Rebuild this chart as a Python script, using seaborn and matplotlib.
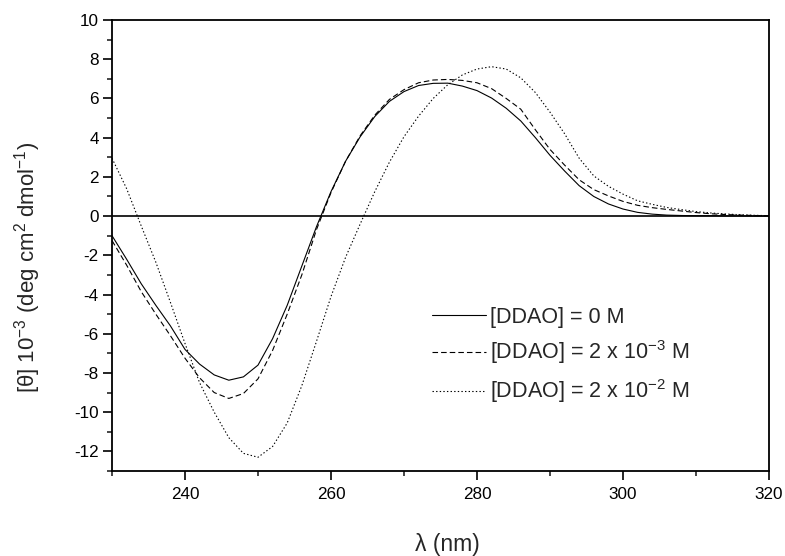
import numpy as np
import pandas as pd
import matplotlib
matplotlib.use("Agg")
import matplotlib.pyplot as plt
import seaborn as sns
from matplotlib.ticker import MultipleLocator

# ---- data ----
wavelength = [230, 232, 234, 236, 238, 240, 242, 244, 246, 248,
              250, 252, 254, 256, 258, 260, 262, 264, 266, 268,
              270, 272, 274, 276, 278, 280, 282, 284, 286, 288,
              290, 292, 294, 296, 298, 300, 302, 304, 306, 308,
              310, 312, 314, 316, 318, 320]

theta_0M = [-1.0, -2.2, -3.45, -4.55, -5.6, -6.8, -7.55, -8.1, -8.37, -8.2,
            -7.6, -6.25, -4.55, -2.55, -0.55, 1.25, 2.8, 4.05, 5.08, 5.85,
            6.35, 6.66, 6.77, 6.78, 6.63, 6.4, 6.02, 5.5, 4.85, 4.0,
            3.1, 2.3, 1.55, 1.0, 0.62, 0.36, 0.19, 0.1, 0.05, 0.03,
            0.02, 0.02, 0.01, 0.01, 0.0, 0.0]

theta_2e3M = [-1.25, -2.5, -3.85, -5.0, -6.1, -7.25, -8.25, -9.0, -9.3, -9.05,
              -8.3, -6.85, -5.0, -3.0, -0.7, 1.2, 2.8, 4.1, 5.15, 5.95,
              6.45, 6.8, 6.94, 6.97, 6.92, 6.8, 6.5, 6.0, 5.45, 4.4,
              3.4, 2.6, 1.85, 1.35, 1.03, 0.75, 0.55, 0.43, 0.34, 0.26,
              0.18, 0.12, 0.08, 0.05, 0.03, 0.02]

theta_2e2M = [2.95, 1.4, -0.5, -2.35, -4.4, -6.5, -8.5, -10.0, -11.3, -12.1,
              -12.3, -11.75, -10.55, -8.65, -6.4, -4.1, -2.1, -0.4, 1.25, 2.75,
              4.05, 5.1, 6.0, 6.7, 7.2, 7.5, 7.62, 7.5, 7.05, 6.3,
              5.3, 4.2, 2.95, 2.05, 1.52, 1.12, 0.78, 0.6, 0.44, 0.33,
              0.23, 0.16, 0.11, 0.07, 0.04, 0.02]

series_labels = ["[DDAO] = 0 M",
                 "[DDAO] = 2 x 10$^{-3}$ M",
                 "[DDAO] = 2 x 10$^{-2}$ M"]

x_ticks = [240, 260, 280, 300, 320]
y_ticks = [-12, -10, -8, -6, -4, -2, 0, 2, 4, 6, 8, 10]

# ---- style ----
sns.set_style("ticks")
plt.rcParams["font.family"] = ["Liberation Sans", "DejaVu Sans"]
plt.rcParams["mathtext.fontset"] = "custom"
plt.rcParams["mathtext.rm"] = "Liberation Sans"
plt.rcParams["mathtext.it"] = "Liberation Sans:italic"
plt.rcParams["mathtext.bf"] = "Liberation Sans:bold"
plt.rcParams["lines.scale_dashes"] = False
plt.rcParams["axes.unicode_minus"] = False

fig = plt.figure(figsize=(7.85, 5.56), dpi=100)
ax = fig.add_axes([0.1427, 0.1529, 0.8369, 0.8111])

df = pd.DataFrame({"wl": wavelength, "s0": theta_0M,
                   "s1": theta_2e3M, "s2": theta_2e2M})

dash_patterns = [None, (4.0, 2.2), (1.0, 1.6)]
for col, lab, dp in zip(["s0", "s1", "s2"], series_labels, dash_patterns):
    sns.lineplot(data=df, x="wl", y=col, ax=ax, color="black",
                 linewidth=0.8, label=lab, legend=False)
    line = ax.lines[-1]
    if dp is not None:
        line.set_dashes(dp)

ax.axhline(0, color="black", linewidth=1.2, zorder=1)

ax.set_xlim(230, 320)
ax.set_ylim(-13, 10)
ax.set_xticks(x_ticks)
ax.set_yticks(y_ticks)
ax.xaxis.set_minor_locator(MultipleLocator(10))
ax.yaxis.set_minor_locator(MultipleLocator(1))

for sp in ax.spines.values():
    sp.set_linewidth(1.3)
    sp.set_color("black")

ax.tick_params(axis="both", which="major", direction="out", length=6.5,
               width=1.2, labelsize=12.3, colors="black")
ax.tick_params(axis="both", which="minor", direction="out", length=3.5,
               width=1.2)
ax.tick_params(axis="x", which="major", pad=5)
ax.tick_params(axis="y", which="major", pad=3)

ax.set_xlabel("λ (nm)", fontsize=16.5)
ax.set_ylabel("[θ] 10$^{-3}$ (deg cm$^{2}$ dmol$^{-1}$)", fontsize=16)
ax.xaxis.set_label_coords(0.51, -0.137)
ax.yaxis.set_label_coords(-0.105, 0.452)

handles = ax.lines[:3]
ax.legend(handles, series_labels, loc="center left",
          bbox_to_anchor=(0.487, 0.255), frameon=False, fontsize=15.5,
          handlelength=2.5, handletextpad=0.2, labelspacing=0.5,
          borderpad=0, borderaxespad=0)

fig.savefig("out.png", dpi=100)
